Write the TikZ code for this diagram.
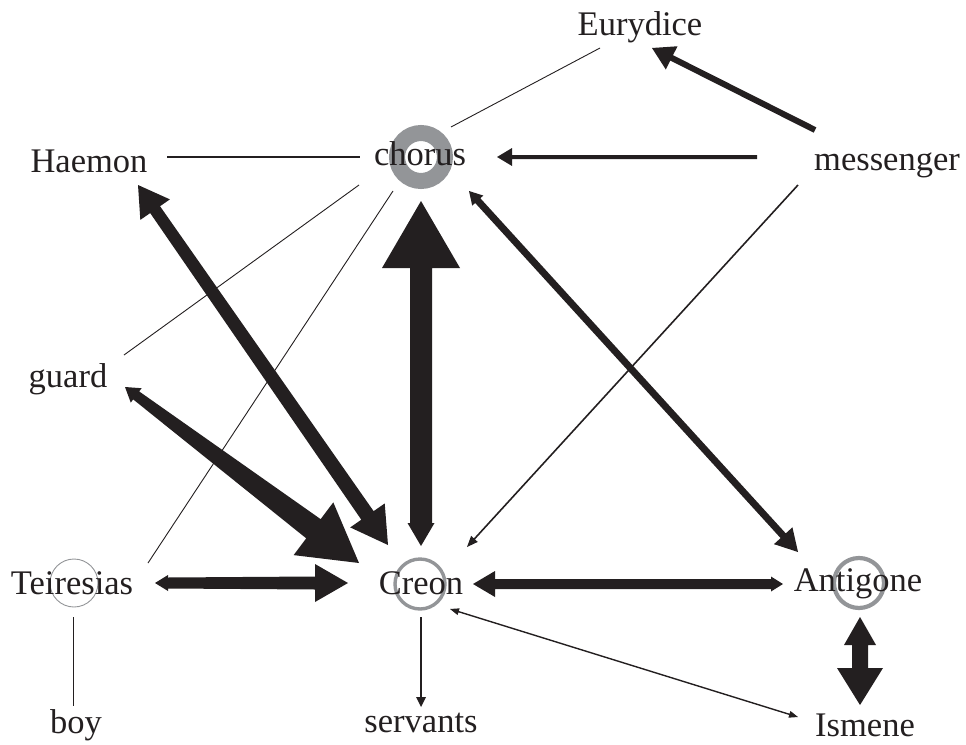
\documentclass[tikz,border=0pt]{standalone}
\usepackage{fontspec}
\setmainfont{Liberation Serif}
\usetikzlibrary{calc,backgrounds}
\definecolor{ink}{HTML}{231F20}
\definecolor{ringgray}{HTML}{939598}
\newcommand\fatarrow[8]{% #1 A, #2 B, #3 head length A, #4 head half width A, #5 shaft half width A, #6 shaft half width B, #7 head length B, #8 head half width B
  \fill[arrowfill] (#1)
  -- ($(#1)!#3pt!(#2)!#4pt!90:(#2)$)
  -- ($(#1)!#3pt!(#2)!#5pt!90:(#2)$)
  -- ($(#2)!#7pt!(#1)!#6pt!-90:(#1)$)
  -- ($(#2)!#7pt!(#1)!#8pt!-90:(#1)$)
  -- (#2)
  -- ($(#2)!#7pt!(#1)!#8pt!90:(#1)$)
  -- ($(#2)!#7pt!(#1)!#6pt!90:(#1)$)
  -- ($(#1)!#3pt!(#2)!#5pt!-90:(#2)$)
  -- ($(#1)!#3pt!(#2)!#4pt!-90:(#2)$)
  -- cycle;}
\begin{document}
\begin{tikzpicture}[x=1pt,y=-1pt,
  lbl/.style={inner sep=0pt,anchor=base,text=ink,font=\fontsize{34.5}{40}\selectfont},
  thinline/.style={draw=ink,line width=0.9pt},
  arrowfill/.style={fill=ink},
  ring/.style={draw=ringgray}]
\useasboundingbox (0,0) rectangle (966,744);
% nodes
\node[lbl] (Eurydice) at (640,35) {Eurydice};
\node[lbl] (Haemon) at (89,172) {Haemon};
\node[lbl] (chorus) at (420,165) {chorus};
\node[lbl] (messenger) at (887,170) {messenger};
\node[lbl] (guard) at (68,387) {guard};
\node[lbl] (Teiresias) at (72,594) {Teiresias};
\node[lbl] (Creon) at (421,594) {Creon};
\node[lbl] (Antigone) at (858,591) {Antigone};
\node[lbl] (boy) at (76,733) {boy};
\node[lbl] (servants) at (421,732) {servants};
\node[lbl] (Ismene) at (865,736) {Ismene};
% rings behind the names
\begin{pgfonlayer}{background}
\draw[ring,line width=16pt] ([shift={(1,-8)}]chorus.base) circle[radius=24pt];
\draw[ring,line width=3.4pt] ([shift={(-1,-10)}]Creon.base) circle[radius=25pt];
\draw[ring,line width=4.2pt] ([shift={(1,-8)}]Antigone.base) circle[radius=25pt];
\draw[ring,line width=0.9pt] ([shift={(2,-11)}]Teiresias.base) circle[radius=24pt];
\end{pgfonlayer}
% connector end points
\coordinate (c1a) at ([shift={(31,-38)}]chorus.base);
\coordinate (c1b) at ([shift={(-40,13)}]Eurydice.base);
\coordinate (c2a) at ([shift={(78,-15)}]Haemon.base);
\coordinate (c2b) at ([shift={(-60,-8)}]chorus.base);
\coordinate (c3a) at ([shift={(-61,20)}]chorus.base);
\coordinate (c3b) at ([shift={(56,-32)}]guard.base);
\coordinate (c4a) at ([shift={(-27,26)}]chorus.base);
\coordinate (c4b) at ([shift={(76,-31)}]Teiresias.base);
\coordinate (c5a) at ([shift={(77,-8)}]chorus.base);
\coordinate (c5b) at ([shift={(-130,-13)}]messenger.base);
\coordinate (c6a) at ([shift={(12,13)}]Eurydice.base);
\coordinate (c6b) at ([shift={(-72,-40)}]messenger.base);
\coordinate (c7a) at ([shift={(46,-47)}]Creon.base);
\coordinate (c7b) at ([shift={(-89,15)}]messenger.base);
\coordinate (c8a) at ([shift={(49,26)}]chorus.base);
\coordinate (c8b) at ([shift={(-60,-39)}]Antigone.base);
\coordinate (c9a) at ([shift={(1,36)}]chorus.base);
\coordinate (c9b) at ([shift={(0,-48)}]Creon.base);
\coordinate (c10a) at ([shift={(49,13)}]Haemon.base);
\coordinate (c10b) at ([shift={(-33,-49)}]Creon.base);
\coordinate (c11a) at ([shift={(57,0)}]guard.base);
\coordinate (c11b) at ([shift={(-62,-31)}]Creon.base);
\coordinate (c12a) at ([shift={(83,-11)}]Teiresias.base);
\coordinate (c12b) at ([shift={(-73,-11)}]Creon.base);
\coordinate (c13a) at ([shift={(52,-10)}]Creon.base);
\coordinate (c13b) at ([shift={(-75,-7)}]Antigone.base);
\coordinate (c14a) at ([shift={(0,-25)}]servants.base);
\coordinate (c14b) at ([shift={(0,23)}]Creon.base);
\coordinate (c15a) at ([shift={(29,15)}]Creon.base);
\coordinate (c15b) at ([shift={(-67,-19)}]Ismene.base);
\coordinate (c16a) at ([shift={(2,26)}]Antigone.base);
\coordinate (c16b) at ([shift={(-5,-31)}]Ismene.base);
\coordinate (c17a) at ([shift={(1,23)}]Teiresias.base);
\coordinate (c17b) at ([shift={(-3,-27)}]boy.base);
% plain lines
\draw[thinline] (c1a) -- (c1b);
\draw[thinline,line width=1.1pt] (c2a) -- (c2b);
\draw[thinline] (c3a) -- (c3b);
\draw[thinline] (c4a) -- (c4b);
\draw[thinline] (c17a) -- (c17b);
% arrows
\fatarrow{c5a}{c5b}{15}{9}{2}{2}{0}{2}
\fatarrow{c6a}{c6b}{22}{13}{3}{3}{0}{3}
\fatarrow{c7a}{c7b}{11}{4.5}{0.8}{0.8}{0}{0.8}
\fatarrow{c8a}{c8b}{13}{7.5}{3.5}{3.5}{22}{12.5}
\fatarrow{c9a}{c9b}{67}{39}{11}{11}{23}{13.5}
\fatarrow{c10a}{c10b}{30}{18}{6}{7.5}{36}{21}
\fatarrow{c11a}{c11b}{14}{9}{5}{12}{57}{33}
\fatarrow{c12a}{c12b}{13}{8}{5.5}{6.5}{33}{19}
\fatarrow{c13a}{c13b}{22}{13}{5}{5}{12}{7.5}
\fatarrow{c14a}{c14b}{10}{5}{0.8}{0.8}{0}{0.8}
\fatarrow{c15a}{c15b}{9}{3.5}{0.7}{0.7}{9}{3.5}
\fatarrow{c16a}{c16b}{28}{16}{8}{8}{37}{23}
\end{tikzpicture}
\end{document}
